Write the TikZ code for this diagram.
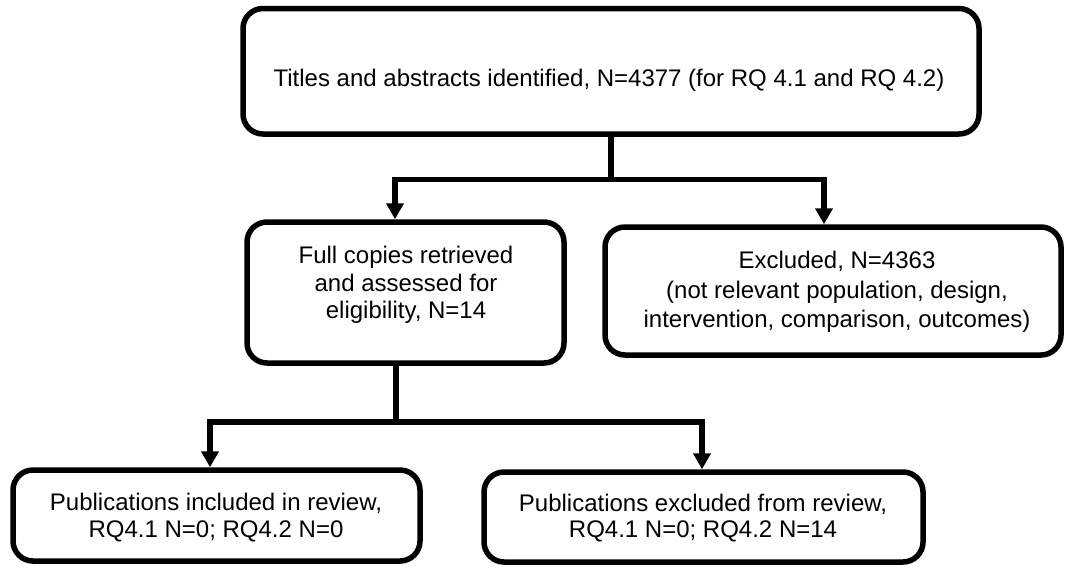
\documentclass[tikz,border=0pt]{standalone}
\usepackage{fontspec}
\setmainfont{Liberation Sans}
\usetikzlibrary{arrows.meta}
\begin{document}
\begin{tikzpicture}[x=1pt,y=-1pt,
  box/.style={draw=black, line width=5.5pt, rounded corners=20pt, fill=white, inner sep=0pt},
  txt/.style={anchor=base, inner sep=0pt, text=black, font=\fontsize{24}{28}\selectfont},
  conn/.style={draw=black, line width=5.5pt, line join=miter},
  arr/.style={conn, -{Triangle[length=16pt,width=17pt]}}]
\useasboundingbox (0,0) rectangle (1067,566);
% boxes
\node[box, minimum width=736pt, minimum height=125.5pt] (A) at (611,71.25) {};
\node[box, minimum width=317pt, minimum height=141pt] (B) at (405.5,292.5) {};
\node[box, minimum width=456pt, minimum height=128pt] (C) at (833,291) {};
\node[box, minimum width=407pt, minimum height=91pt] (D) at (216.5,515.5) {};
\node[box, minimum width=439pt, minimum height=90pt] (E) at (703.5,517) {};
% texts
\node[txt] (A1) at (609,86) {Titles and abstracts identified, N=4377 (for RQ 4.1 and RQ 4.2)};
\node[txt] (B1) at (406,263) {Full copies retrieved};
\node[txt] (B2) at (406,291) {and assessed for};
\node[txt] (B3) at (406,318) {eligibility, N=14};
\node[txt] (C1) at (837,268) {Excluded, N=4363};
\node[txt] (C2) at (837,298) {(not relevant population, design,};
\node[txt] (C3) at (837,327) {intervention, comparison, outcomes)};
\node[txt] (D1) at (216,510) {Publications included in review,};
\node[txt] (D2) at (216,537) {RQ4.1 N=0; RQ4.2 N=0};
\node[txt] (E1) at (703,511) {Publications excluded from review,};
\node[txt] (E2) at (703,537) {RQ4.1 N=0; RQ4.2 N=14};
% connectors
\coordinate (j1) at (611,179.5);
\draw[conn] (A.south) -- (j1);
\draw[arr] (j1) -| ([xshift=-10.5pt]B.north);
\draw[arr] (j1) -| ([xshift=-9pt]C.north);
\coordinate (j2) at (396,422);
\draw[conn] ([xshift=-9.5pt]B.south) -- (j2);
\draw[arr] (j2) -| ([xshift=-6.5pt]D.north);
\draw[arr] (j2) -| ([xshift=-1.5pt]E.north);
\end{tikzpicture}
\end{document}
